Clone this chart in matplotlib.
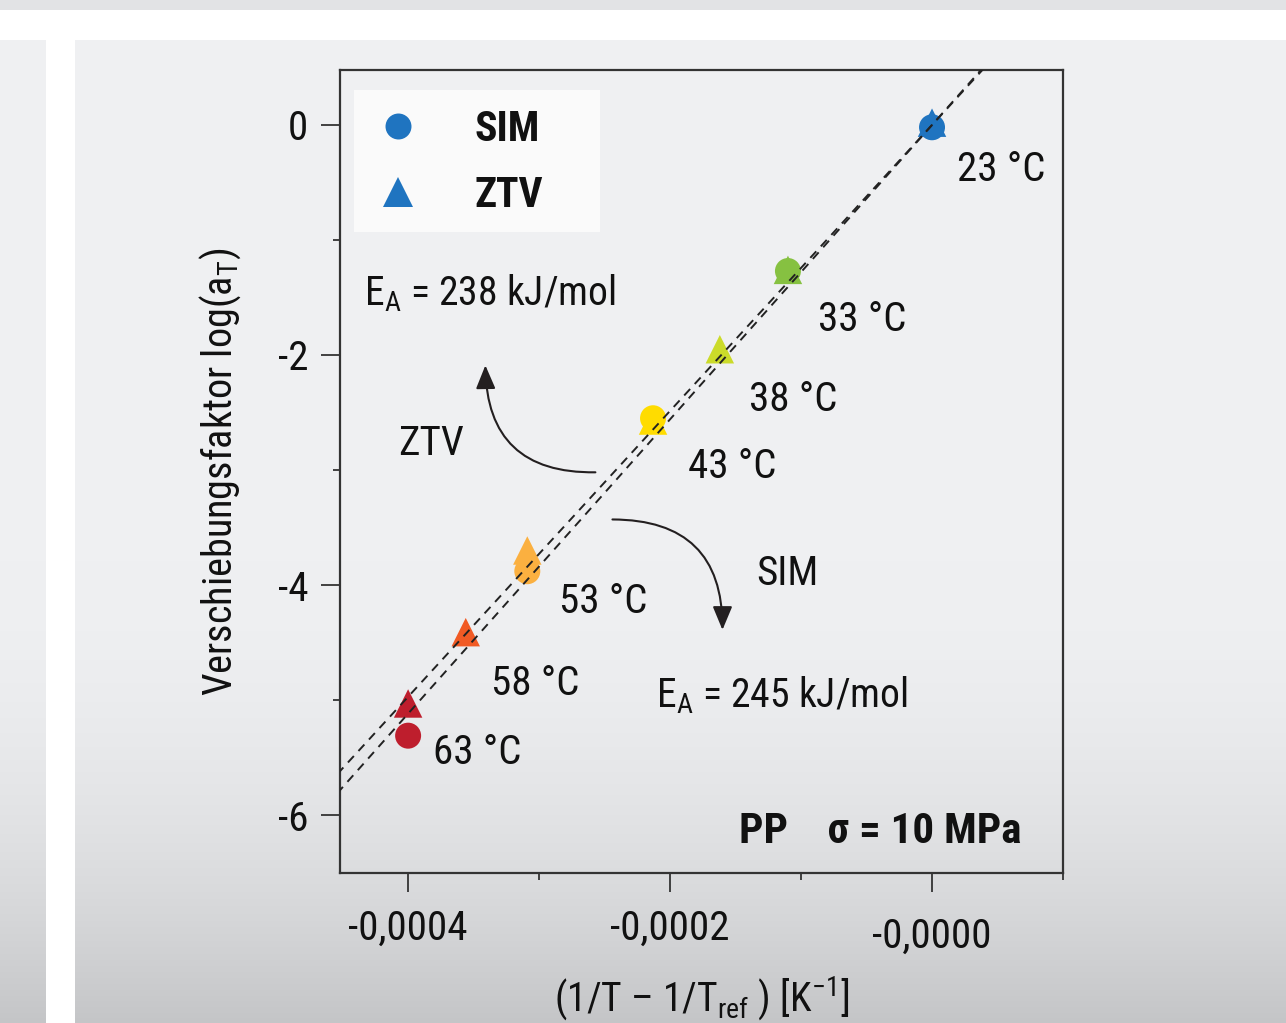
import matplotlib
matplotlib.use('Agg')
import matplotlib.pyplot as plt
from matplotlib import font_manager as fm
from matplotlib.patches import Rectangle
from matplotlib.lines import Line2D
from matplotlib.transforms import ScaledTranslation
import numpy as np

# ---------------- data ----------------
sim_temps = [23, 33, 43, 53, 63]
sim_x = [0.0, -0.000110, -0.000213, -0.000309, -0.000400]
sim_y = [-0.02, -1.27, -2.55, -3.88, -5.31]

ztv_temps = [23, 33, 38, 43, 53, 58, 63]
ztv_x = [0.0, -0.000110, -0.000162, -0.000213, -0.000309, -0.000356, -0.000400]
ztv_y = [0.02, -1.26, -1.95, -2.57, -3.70, -4.41, -5.03]

temp_colors = {23: '#1f74c0', 33: '#86c141', 38: '#cbdb2a', 43: '#ffdc00',
               53: '#fbb040', 58: '#f15a24', 63: '#be1e2d'}

fit_names = ['ZTV', 'SIM']
fit_slopes = [12430, 12796]          # log(aT) per K^-1 (Arrhenius fits)
ea_values = [238, 245]               # kJ/mol

label_temps = [23, 33, 38, 43, 53, 58, 63]
x_ticks = [-0.0004, -0.0002, 0.0]
x_ticklabels = ['-0,0004', '-0,0002', '-0,0000']
x_minor = [-0.0003, -0.0001, 0.0001]
y_ticks = [0, -2, -4, -6]
y_ticklabels = ['0', '-2', '-4', '-6']
y_minor = [-1, -3, -5]

# ---------------- layout (text positions in data coords) ----------------
label_pos = {23: (0.0000191, -0.487), 33: (-0.000087, -1.79), 38: (-0.000140, -2.49),
             43: (-0.000186, -3.07), 53: (-0.000285, -4.24), 58: (-0.000337, -4.96),
             63: (-0.000381, -5.56)}


def pick(cands):
    for c in cands:
        try:
            fm.findfont(fm.FontProperties(family=c), fallback_to_default=False)
            return c
        except Exception:
            pass
    return 'DejaVu Sans'


FONT = pick(['Liberation Sans Narrow', 'Roboto Condensed', 'Open Sans Condensed',
             'DejaVu Sans Condensed', 'Liberation Sans'])
plt.rcParams['font.family'] = [FONT, 'DejaVu Sans']
plt.rcParams['mathtext.fontset'] = 'custom'
plt.rcParams['mathtext.rm'] = FONT
plt.rcParams['mathtext.it'] = FONT + ':italic'
plt.rcParams['mathtext.bf'] = FONT + ':bold'

W, H = 1286, 1023
fig = plt.figure(figsize=(W / 100, H / 100), dpi=100)
fig.patch.set_facecolor('white')

# ---------------- background panels ----------------
img = np.ones((H, W, 3))
img[0:10, :, :] = np.array([226, 227, 229]) / 255.0
rows = np.arange(H)
g = np.where(rows < 560, 240.5, 240 - 43 * ((rows - 560) / 463.0) ** 2)
col = np.stack([g - 1, g, g + 2], axis=1) / 255.0
col = np.clip(col, 0, 1)
for (c0, c1) in [(0, 46), (75, W)]:
    img[40:, c0:c1, :] = col[40:, None, :]
bg = fig.add_axes([0, 0, 1, 1], zorder=-10)
bg.imshow(img, aspect='auto', extent=[0, 1, 0, 1], interpolation='nearest')
bg.axis('off')

# ---------------- main axes ----------------
ax = fig.add_axes([340 / W, 1 - 873 / H, 723 / W, 803 / H])
ax.set_facecolor('none')
ax.set_xlim(-0.000452, 0.0001)
ax.set_ylim(-6.504, 0.478)

txtc = '#111111'
FS = 29.5

# fit lines
xs = np.array([-0.00047, 0.00011])
for slope in fit_slopes:
    ax.plot(xs, slope * xs, ls=(0, (4.5, 3.5)), lw=1.4, color='#222222', zorder=4)

# points
ax.scatter(sim_x, sim_y, s=350, marker='o', c=[temp_colors[t] for t in sim_temps],
           linewidths=0, zorder=3)
ax.scatter(ztv_x, ztv_y, s=420, marker='^', c=[temp_colors[t] for t in ztv_temps],
           linewidths=0, zorder=3)

# temperature labels
for t in label_temps:
    x, y = label_pos[t]
    ax.text(x, y, f'{t} °C', fontsize=FS, color=txtc, ha='left', va='baseline')

# annotations
ax.text(-0.000434, -1.565, r'E$_\mathregular{A}$ = %d kJ/mol' % ea_values[0],
        fontsize=28.5, color=txtc, ha='left', va='baseline')
ax.text(-0.000211, -5.06, r'E$_\mathregular{A}$ = %d kJ/mol' % ea_values[1],
        fontsize=28.5, color=txtc, ha='left', va='baseline')
ax.text(-0.000408, -2.87, fit_names[0], fontsize=FS, color=txtc, ha='left', va='baseline')
ax.text(-0.000134, -4.0, fit_names[1], fontsize=FS, color=txtc, ha='left', va='baseline')
ax.text(-0.000147, -6.24, 'PP    σ = 10 MPa', fontsize=31, fontweight='bold',
        color=txtc, ha='left', va='baseline')

arr = dict(arrowstyle='-|>,head_length=0.6,head_width=0.25',
           connectionstyle='arc3,rad=-0.5', lw=1.5,
           color='#231f20', mutation_scale=24, shrinkA=0, shrinkB=0)
ax.annotate('', xy=(-0.000341, -2.09), xytext=(-0.000257, -3.02), arrowprops=arr)
ax.annotate('', xy=(-0.000160, -4.39), xytext=(-0.000244, -3.43), arrowprops=arr)

# legend
ax.add_patch(Rectangle((14 / 723, 1 - 162 / 803), 246 / 723, 142 / 803,
                       transform=ax.transAxes, facecolor='#fafafa', edgecolor='none',
                       zorder=1))
handles = [Line2D([], [], marker='o', ls='none', color=temp_colors[23], markersize=18.7,
                  markeredgewidth=0),
           Line2D([], [], marker='^', ls='none', color=temp_colors[23], markersize=21,
                  markeredgewidth=0)]
leg = ax.legend(handles, ['SIM', 'ZTV'], loc='upper left',
                bbox_to_anchor=(14 / 723, 1 - 20 / 803), borderaxespad=0,
                frameon=False, prop=dict(family=FONT, weight='bold', size=30),
                borderpad=0.45, labelspacing=0.6, handlelength=1.21,
                handletextpad=1.24)
for t in leg.get_texts():
    t.set_color(txtc)

# ticks
ax.set_xticks(x_ticks)
ax.set_xticklabels(x_ticklabels)
ax.set_xticks(x_minor, minor=True)
ax.set_yticks(y_ticks)
ax.set_yticklabels(y_ticklabels)
ax.set_yticks(y_minor, minor=True)
ax.tick_params(which='major', direction='out', length=14, width=1.3, color='#333333',
               labelsize=FS, labelcolor=txtc)
ax.tick_params(axis='y', which='major', pad=9)
ax.tick_params(axis='x', which='major', pad=12)
ax.tick_params(which='minor', direction='out', length=5, width=1.3, color='#333333')
for sp in ax.spines.values():
    sp.set_linewidth(1.6)
    sp.set_color('#333333')

lbl = ax.get_xticklabels()[2]
lbl.set_transform(lbl.get_transform() + ScaledTranslation(0, -8 / 100, fig.dpi_scale_trans))

ax.set_ylabel(r'Verschiebungsfaktor log(a$_\mathregular{T}$)', fontsize=29, color=txtc)
ax.yaxis.set_label_coords(-0.134, 0.5)
ax.set_xlabel(r'(1/T – 1/T$_\mathregular{ref}$ ) [K$^\mathregular{-1}$]', fontsize=28.5,
              color=txtc, va='top')
ax.xaxis.set_label_coords(0.5, -0.127)

fig.savefig('out.png', dpi=100)
